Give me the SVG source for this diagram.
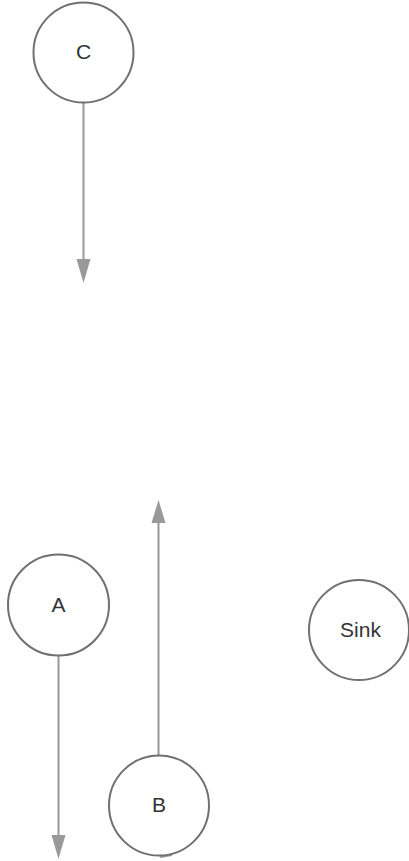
<svg xmlns="http://www.w3.org/2000/svg" width="409" height="861" viewBox="0 0 409 861">
  <style>
    .node circle { fill: #ffffff; stroke: #707070; stroke-width: 2; }
    .node text { font-family: "Liberation Sans", Arial, sans-serif; font-size: 21px; fill: #333333; text-anchor: middle; dominant-baseline: central; }
    .edge { stroke: #999999; stroke-width: 2; fill: none; }
    .head { fill: #999999; }
  </style>
  <rect width="409" height="861" fill="#ffffff"/>
  <g id="edges">
    <line class="edge" x1="83.5" y1="103" x2="83.5" y2="262"/>
    <polygon class="head" points="76.5,259 90.5,259 83.5,283"/>
    <line class="edge" x1="58.5" y1="656" x2="58.5" y2="838"/>
    <polygon class="head" points="51.5,835 65.5,835 58.5,859"/>
    <line class="edge" x1="158.5" y1="755" x2="158.5" y2="520"/>
    <polygon class="head" points="151.5,523 165.5,523 158.5,500"/>
    <path class="edge" d="M160,857 L172,855"/>
  </g>
  <g id="node-C" class="node">
    <circle cx="83.5" cy="52.5" r="50"/>
    <text x="83.5" y="51.5">C</text>
  </g>
  <g id="node-A" class="node">
    <circle cx="58.5" cy="605" r="50.5"/>
    <text x="58.5" y="604">A</text>
  </g>
  <g id="node-B" class="node">
    <circle cx="159" cy="805.5" r="50"/>
    <text x="159" y="804.5">B</text>
  </g>
  <g id="node-Sink" class="node">
    <circle cx="359" cy="630" r="50"/>
    <text x="360.5" y="629">Sink</text>
  </g>
</svg>
